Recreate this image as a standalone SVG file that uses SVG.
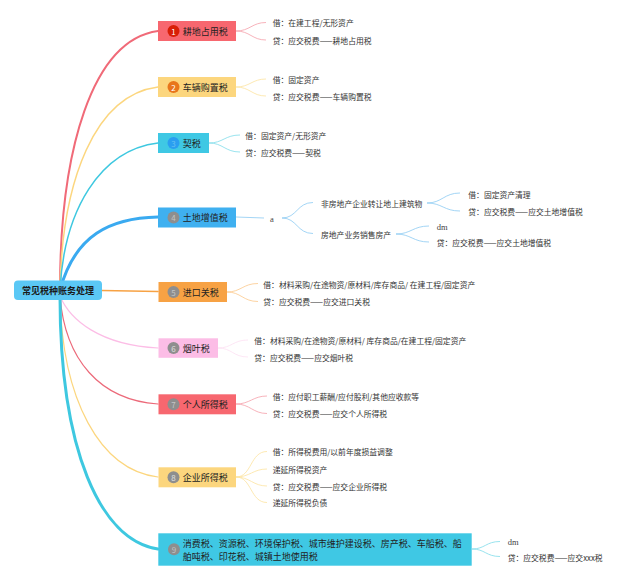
<svg xmlns="http://www.w3.org/2000/svg" width="640" height="580" viewBox="0 0 640 580">
<style>
text{font-family:"Noto Sans CJK SC","Noto Sans",sans-serif;dominant-baseline:central}
.n{font-size:9px;fill:#222}
.r{font-size:9px;font-weight:bold;fill:#1a1a1a}
.l{font-size:7.8px;fill:#333}
.s{font-family:"Liberation Serif","DejaVu Serif",serif;font-size:8.5px;fill:#444}
.num{font-size:8px;fill:#fff;text-anchor:middle}
.gnum{font-size:8px;fill:#c4c4c4;text-anchor:middle}
.c{fill:none;stroke-linecap:round}
.lc{fill:none;stroke-width:0.8}
</style>
<rect width="640" height="580" fill="#fff"/>
<g id="connectors">
<path class="c" d="M60,290 C60,150 92,40 158,31" stroke="#f06a78" stroke-width="2"/>
<path class="c" d="M60,290 C62,180 95,95 158,87" stroke="#fcd67e" stroke-width="1.5"/>
<path class="c" d="M60,290 C64,210 100,150 158,143" stroke="#3ec8e0" stroke-width="1.5"/>
<path class="c" d="M60,290 C75,235 110,218 158,217" stroke="#3aaaf0" stroke-width="3"/>
<path class="c" d="M102,290.5 L158,291.5" stroke="#f7a244" stroke-width="1.5"/>
<path class="c" d="M60,296 C70,320 100,345 158,348" stroke="#fcbde6" stroke-width="1.2"/>
<path class="c" d="M60,296 C65,360 100,400 158,404" stroke="#ec6a7a" stroke-width="1.2"/>
<path class="c" d="M60,296 C62,400 100,470 158,477" stroke="#fcd67e" stroke-width="1.2"/>
<path class="c" d="M60,296 C60,450 100,540 158,549" stroke="#3ec8e0" stroke-width="3"/>
<g stroke="#f5a0aa" class="lc">
<path d="M236,31 C250,31 252,22.5 266,22.5"/><path d="M236,31 C250,31 252,40 266,40"/>
<path d="M236,404 C250,404 253,396 267,396"/><path d="M236,404 C250,404 253,413.5 267,413.5"/>
</g>
<g stroke="#fde3a0" class="lc">
<path d="M236,87 C250,87 252,79 266,79"/><path d="M236,87 C250,87 252,96 266,96"/>
<path d="M236,477 C252,477 250,451.5 267,451.5"/><path d="M236,477 C250,477 253,469 267,469"/>
<path d="M236,477 C250,477 253,486 267,486"/><path d="M236,477 C252,477 250,502.5 267,502.5"/>
</g>
<g stroke="#7fdcea" class="lc">
<path d="M209,143 C223,143 225,135 240,135"/><path d="M209,143 C223,143 225,152 240,152"/>
<path d="M472,549 C485,549 486,541.5 500,541.5"/><path d="M472,549 C485,549 486,556.5 500,556.5"/>
</g>
<g stroke="#8ccaf2" class="lc">
<path d="M236,217 L264,218"/>
<path d="M282,218 C297,218 297,202.5 313,202.5"/><path d="M282,218 C297,218 297,233.5 313,233.5"/>
<path d="M427,203 C442,203 444,193 460,193"/><path d="M427,203 C442,203 444,211 460,211"/>
<path d="M396,234 C411,234 413,226 429,226"/><path d="M396,234 C411,234 413,242 429,242"/>
</g>
<g stroke="#fbc88a" class="lc">
<path d="M227,292 C241,292 243,283.5 258,283.5"/><path d="M227,292 C241,292 243,301.5 258,301.5"/>
</g>
<g stroke="#fde0f2" class="lc">
<path d="M218,348 C232,348 233,340 248,340"/><path d="M218,348 C232,348 233,357 248,357"/>
</g>
</g>
<g id="root">
<rect x="14" y="280.5" width="88" height="19.5" rx="4" fill="#5bc8f5"/>
<text class="r" x="22" y="290.5">常见税种账务处理</text>
</g>
<g id="n1">
<rect x="158" y="21" width="78" height="20" fill="#f7676f"/>
<circle cx="173.5" cy="31" r="6" fill="#d81e06"/><text class="num" x="173.5" y="31">1</text>
<text class="n" x="182.7" y="31">耕地占用税</text>
<text class="l" x="272.7" y="22.7">借：在建工程/无形资产</text>
<text class="l" x="272.7" y="40">贷：应交税费——耕地占用税</text>
</g>
<g id="n2">
<rect x="158" y="77" width="78" height="20" fill="#fcd67e"/>
<circle cx="173.5" cy="87" r="6" fill="#e8761b"/><text class="num" x="173.5" y="87">2</text>
<text class="n" x="182.7" y="87">车辆购置税</text>
<text class="l" x="272.7" y="79">借：固定资产</text>
<text class="l" x="272.7" y="96">贷：应交税费——车辆购置税</text>
</g>
<g id="n3">
<rect x="158" y="133" width="51" height="20" fill="#3fc8e4"/>
<circle cx="173.5" cy="143" r="6" fill="#2a9ef0"/><text class="num" x="173.5" y="143" style="fill:#66c0f2">3</text>
<text class="n" x="182.7" y="143">契税</text>
<text class="l" x="245.3" y="135">借：固定资产/无形资产</text>
<text class="l" x="245.3" y="152.3">贷：应交税费——契税</text>
</g>
<g id="n4">
<rect x="158" y="207.5" width="78" height="20" fill="#3fb0f0"/>
<circle cx="173.5" cy="217.5" r="6" fill="#8e8e8e"/><text class="gnum" x="173.5" y="217.5">4</text>
<text class="n" x="182.7" y="217.5">土地增值税</text>
<text class="s" x="270" y="218.5">a</text>
<text class="l" x="321" y="203.3">非房地产企业转让地上建筑物</text>
<text class="l" x="321" y="234.3">房地产业务销售房产</text>
<text class="l" x="468.3" y="194.3">借：固定资产清理</text>
<text class="l" x="468.3" y="211.7">贷：应交税费——应交土地增值税</text>
<text class="s" x="436.7" y="227">dm</text>
<text class="l" x="436.7" y="242.7">贷：应交税费——应交土地增值税</text>
</g>
<g id="n5">
<rect x="158.5" y="282" width="68.5" height="20" fill="#f7a244"/>
<circle cx="173.5" cy="292" r="6" fill="#8e8e8e"/><text class="gnum" x="173.5" y="292">5</text>
<text class="n" x="182.7" y="292">进口关税</text>
<text class="l" x="263.3" y="284">借：材料采购/在途物资/原材料/库存商品/ 在建工程/固定资产</text>
<text class="l" x="263.3" y="301.3">贷：应交税费——应交进口关税</text>
</g>
<g id="n6">
<rect x="158.5" y="338.3" width="59.5" height="19.5" fill="#fcbde6"/>
<circle cx="173.5" cy="348" r="6" fill="#8e8e8e"/><text class="num" x="173.5" y="348" style="fill:#e0e0e0">6</text>
<text class="n" x="182.7" y="348">烟叶税</text>
<text class="l" x="254.3" y="340">借：材料采购/在途物资/原材料/ 库存商品/在建工程/固定资产</text>
<text class="l" x="254.3" y="357">贷：应交税费——应交烟叶税</text>
</g>
<g id="n7">
<rect x="158.5" y="394.3" width="77.5" height="20" fill="#f7676f"/>
<circle cx="173.5" cy="404.3" r="6" fill="#8e8e8e"/><text class="gnum" x="173.5" y="404.3">7</text>
<text class="n" x="182.7" y="404.3">个人所得税</text>
<text class="l" x="272.7" y="396">借：应付职工薪酬/应付股利/其他应收款等</text>
<text class="l" x="272.7" y="413.3">贷：应交税费——应交个人所得税</text>
</g>
<g id="n8">
<rect x="158.5" y="467.3" width="77.5" height="20" fill="#fcd67e"/>
<circle cx="173.5" cy="477.3" r="6" fill="#8e8e8e"/><text class="num" x="173.5" y="477.3" style="fill:#e0e0e0">8</text>
<text class="n" x="182.7" y="477.3">企业所得税</text>
<text class="l" x="272.7" y="451.7">借：所得税费用/以前年度损益调整</text>
<text class="l" x="272.7" y="469.3">递延所得税资产</text>
<text class="l" x="272.7" y="486">贷：应交税费——应交企业所得税</text>
<text class="l" x="272.7" y="502.7">递延所得税负债</text>
</g>
<g id="n9">
<rect x="158.3" y="533.3" width="313.4" height="32.4" fill="#3fc8e4"/>
<circle cx="174" cy="549.3" r="6" fill="#8e8e8e"/><text class="gnum" x="174" y="549.3">9</text>
<text class="n" x="182.7" y="543.5">消费税、资源税、环境保护税、城市维护建设税、房产税、车船税、船</text>
<text class="n" x="182.7" y="556.3">舶吨税、印花税、城镇土地使用税</text>
<text class="s" x="507.7" y="542">dm</text>
<text class="l" x="507.7" y="557">贷：应交税费——应交xxx税</text>
</g>
</svg>
